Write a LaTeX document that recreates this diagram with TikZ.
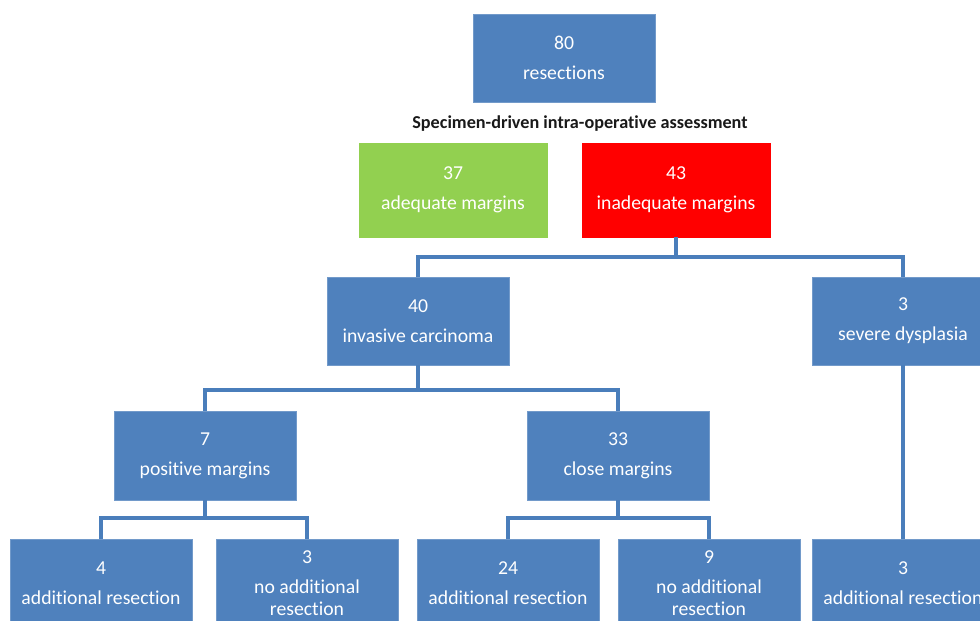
\documentclass[tikz,border=0pt]{standalone}
\usepackage{fontspec}
\setmainfont{Carlito}[Ligatures={NoCommon}]
\definecolor{boxblue}{HTML}{4F81BD}
\definecolor{linkblue}{HTML}{4A7EBB}
\definecolor{okgreen}{HTML}{92D050}
\definecolor{badred}{HTML}{FF0000}
\begin{document}
\begin{tikzpicture}[x=1pt,y=-1pt,
  card/.style={rectangle, fill=boxblue, draw=boxblue!80!white, line width=0.6pt, minimum width=182pt, minimum height=88pt, inner sep=0pt, text=white, align=center, font=\fontsize{19.7}{22}\selectfont},
  link/.style={draw=linkblue, line width=3.2pt, line join=miter}]
\useasboundingbox (0,0) rectangle (980,621);
\clip (0,0) rectangle (980,621);
\node[card] (top) at (564,58) {80\\[8pt]resections};
\node[font=\bfseries\fontsize{18.2}{20}\selectfont, text=black!90] (title) at (580,124) {Specimen-driven intra-operative assessment};
\node[card, fill=okgreen, draw=okgreen, minimum width=188pt, minimum height=94pt] (green) at (453,190) {37\\[8pt]adequate margins};
\node[card, fill=badred, draw=badred, minimum width=188pt, minimum height=94pt] (red) at (676,190) {43\\[8pt]inadequate margins};
\node[card] (inv) at (418,321) {40\\[8pt]invasive carcinoma};
\node[card] (sev) at (903,321) {3\\[8pt]severe dysplasia};
\node[card, minimum height=89pt] (pos) at (205,455.5) {7\\[8pt]positive margins};
\node[card, minimum height=89pt] (close) at (618,455.5) {33\\[8pt]close margins};
\node[card] (b1) at (101,583) {4\\[8pt]additional resection};
\node[card] (b2) at (307,583) {3\\[8pt]no additional\\resection};
\node[card] (b3) at (508,583) {24\\[8pt]additional resection};
\node[card] (b4) at (709,583) {9\\[8pt]no additional\\resection};
\node[card] (b5) at (903,583) {3\\[8pt]additional resection};
\coordinate (j1) at (676,257);
\coordinate (j2) at (418,390);
\coordinate (j3) at (205,518);
\coordinate (j4) at (618,518);
\draw[link] (red.south) -- (j1);
\draw[link] (j1) -| (inv.north);
\draw[link] (j1) -| (sev.north);
\draw[link] (inv.south) -- (j2);
\draw[link] (j2) -| (pos.north);
\draw[link] (j2) -| (close.north);
\draw[link] (pos.south) -- (j3);
\draw[link] (j3) -| (b1.north);
\draw[link] (j3) -| (b2.north);
\draw[link] (close.south) -- (j4);
\draw[link] (j4) -| (b3.north);
\draw[link] (j4) -| (b4.north);
\draw[link] (sev.south) -- (b5.north);
\end{tikzpicture}
\end{document}
